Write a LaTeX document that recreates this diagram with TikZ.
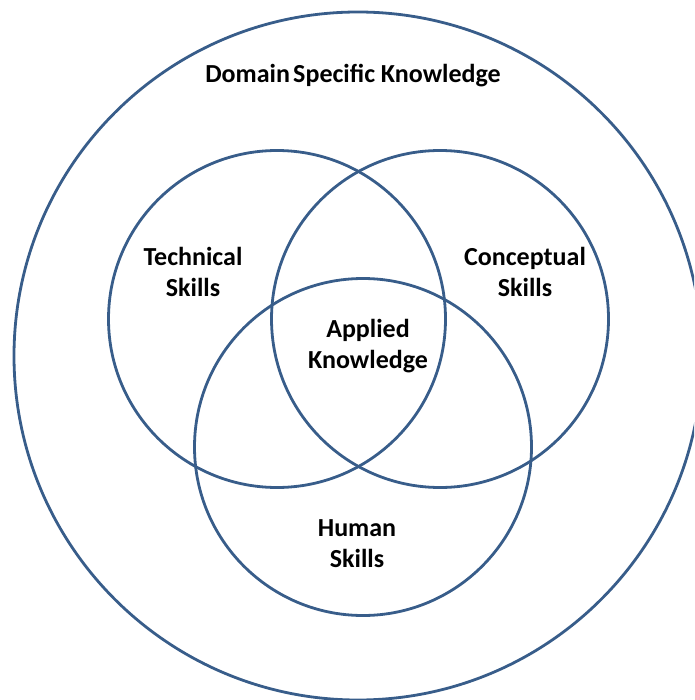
\documentclass[tikz,border=0pt]{standalone}
\usepackage{fontspec}
\setmainfont{Carlito}
\definecolor{ringblue}{RGB}{56,93,138}
\begin{document}
\begin{tikzpicture}[x=1pt,y=-1pt,
  ring/.style={circle,draw=ringblue,line width=2.8pt,inner sep=0pt,outer sep=0pt},
  lbl/.style={align=center,font=\fontsize{26}{31}\selectfont\bfseries,inner sep=0pt}]
\useasboundingbox (0,0) rectangle (694,700);
\clip (0,0) rectangle (694,700);
\node[ring,minimum size=688pt] (domain) at (358,356) {};
\node[ring,minimum size=337pt] (tech) at (277,319) {};
\node[ring,minimum size=337pt] (conc) at (440,319) {};
\node[ring,minimum size=337pt] (human) at (363,447) {};
\node[lbl] (tdomain) at (353,76) {Domain\hspace{-0.1em} Specific Knowledge};
\node[lbl] (ttech) at (193,272) {Technical\\Skills};
\node[lbl] (tconc) at (525,272) {Conceptual\\Skills};
\node[lbl] (tapp) at (368,346) {Applied\\Knowledge};
\node[lbl] (thuman) at (357,544) {Human\\Skills};
\end{tikzpicture}
\end{document}
